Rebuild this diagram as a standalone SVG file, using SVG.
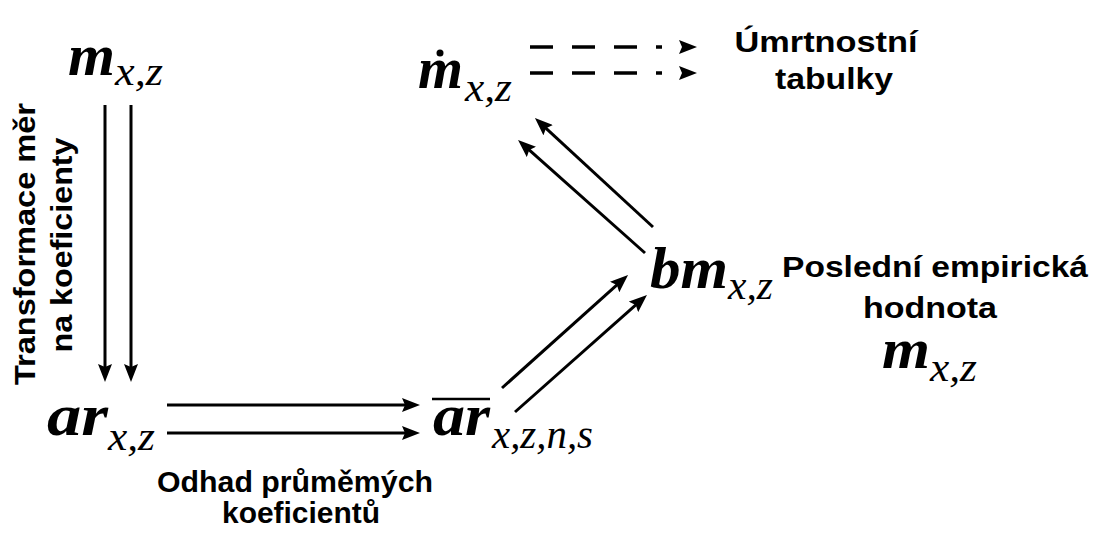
<svg xmlns="http://www.w3.org/2000/svg" width="1101" height="536" viewBox="0 0 1101 536">
<style>
.bg{fill:#fff}
.mv{font-family:"Liberation Serif","Times New Roman",serif;font-style:italic;font-weight:bold;font-size:60px;fill:#000}
.sb{font-family:"Liberation Serif","Times New Roman",serif;font-style:italic;font-size:40px;fill:#000}
.lb{font-family:"Liberation Sans",Arial,sans-serif;font-weight:bold;font-size:29px;fill:#000}
.ln{stroke:#000;stroke-width:3;fill:none}
.dash{stroke:#000;stroke-width:3.5;fill:none;stroke-dasharray:23 19}
</style>
<defs>
<marker id="ah" viewBox="0 0 18 14" refX="8" refY="7" markerWidth="18" markerHeight="14" markerUnits="userSpaceOnUse" orient="auto">
<path d="M0,0 L18,7 L0,14 L3,7 z" fill="#000"/>
</marker>
<marker id="ahd" viewBox="-40 0 58 14" refX="-17" refY="7" markerWidth="58" markerHeight="14" markerUnits="userSpaceOnUse" orient="auto">
<path d="M0,0 L18,7 L0,14 L3,7 z" fill="#000"/>
</marker>
</defs>
<rect class="bg" x="0" y="0" width="1101" height="536"/>

<g id="node-m-top">
<text class="mv" x="68" y="75" textLength="47" lengthAdjust="spacingAndGlyphs">m</text>
<text class="sb" x="115" y="85" textLength="48" lengthAdjust="spacingAndGlyphs">x,z</text>
</g>

<g id="node-mdot">
<text class="mv" x="418" y="88" textLength="45" lengthAdjust="spacingAndGlyphs">m</text>
<circle cx="440" cy="53" r="3.5" fill="#000"/>
<text class="sb" x="465" y="101" textLength="47" lengthAdjust="spacingAndGlyphs">x,z</text>
</g>

<g id="node-tables">
<text class="lb" x="826" y="52" text-anchor="middle" textLength="183" lengthAdjust="spacingAndGlyphs">Úmrtnostní</text>
<text class="lb" x="834" y="89" text-anchor="middle" textLength="118" lengthAdjust="spacingAndGlyphs">tabulky</text>
</g>

<g id="node-ar">
<text class="mv" x="47" y="435" textLength="61" lengthAdjust="spacingAndGlyphs">ar</text>
<text class="sb" x="108" y="450" textLength="47" lengthAdjust="spacingAndGlyphs">x,z</text>
</g>

<g id="node-arbar">
<line x1="432" y1="399" x2="490" y2="399" stroke="#000" stroke-width="2.5"/>
<text class="mv" x="433" y="435" textLength="57" lengthAdjust="spacingAndGlyphs">ar</text>
<text class="sb" x="492" y="448" textLength="101" lengthAdjust="spacingAndGlyphs">x,z,n,s</text>
</g>

<g id="node-bm">
<text class="mv" x="650" y="288" textLength="78" lengthAdjust="spacingAndGlyphs">bm</text>
<text class="sb" x="728" y="299" textLength="45" lengthAdjust="spacingAndGlyphs">x,z</text>
</g>

<g id="node-last">
<text class="lb" x="935" y="277" text-anchor="middle" textLength="306" lengthAdjust="spacingAndGlyphs">Poslední empirická</text>
<text class="lb" x="930" y="318" text-anchor="middle" textLength="134" lengthAdjust="spacingAndGlyphs">hodnota</text>
<text class="mv" x="882" y="368" style="font-size:56px" textLength="48" lengthAdjust="spacingAndGlyphs">m</text>
<text class="sb" x="930" y="381" textLength="47" lengthAdjust="spacingAndGlyphs">x,z</text>
</g>

<g id="label-transform">
<text class="lb" transform="translate(35,244) rotate(-90)" x="0" y="0" text-anchor="middle" textLength="282" lengthAdjust="spacingAndGlyphs">Transformace měr</text>
<text class="lb" transform="translate(72,245) rotate(-90)" x="0" y="0" text-anchor="middle" textLength="215" lengthAdjust="spacingAndGlyphs">na koeficienty</text>
</g>

<g id="label-odhad">
<text class="lb" x="295" y="492" text-anchor="middle" textLength="276" lengthAdjust="spacingAndGlyphs">Odhad průměmých</text>
<text class="lb" x="301" y="523" text-anchor="middle" textLength="158" lengthAdjust="spacingAndGlyphs">koeficientů</text>
</g>

<g id="connectors">
<line class="ln" x1="105" y1="105" x2="105" y2="372" marker-end="url(#ah)"/>
<line class="ln" x1="131" y1="105" x2="131" y2="372" marker-end="url(#ah)"/>
<line class="ln" x1="167" y1="405" x2="410" y2="405" marker-end="url(#ah)"/>
<line class="ln" x1="167" y1="433" x2="410" y2="433" marker-end="url(#ah)"/>
<line class="ln" x1="502" y1="388" x2="620.6" y2="281.7" marker-end="url(#ah)"/>
<line class="ln" x1="515" y1="412" x2="639.5" y2="301.6" marker-end="url(#ah)"/>
<line class="ln" x1="653" y1="227" x2="542.3" y2="124.8" marker-end="url(#ah)"/>
<line class="ln" x1="645" y1="253" x2="525.5" y2="146.6" marker-end="url(#ah)"/>
<line class="dash" x1="530" y1="47" x2="662" y2="47" marker-end="url(#ahd)"/>
<line class="dash" x1="530" y1="73" x2="662" y2="73" marker-end="url(#ahd)"/>
</g>
</svg>
